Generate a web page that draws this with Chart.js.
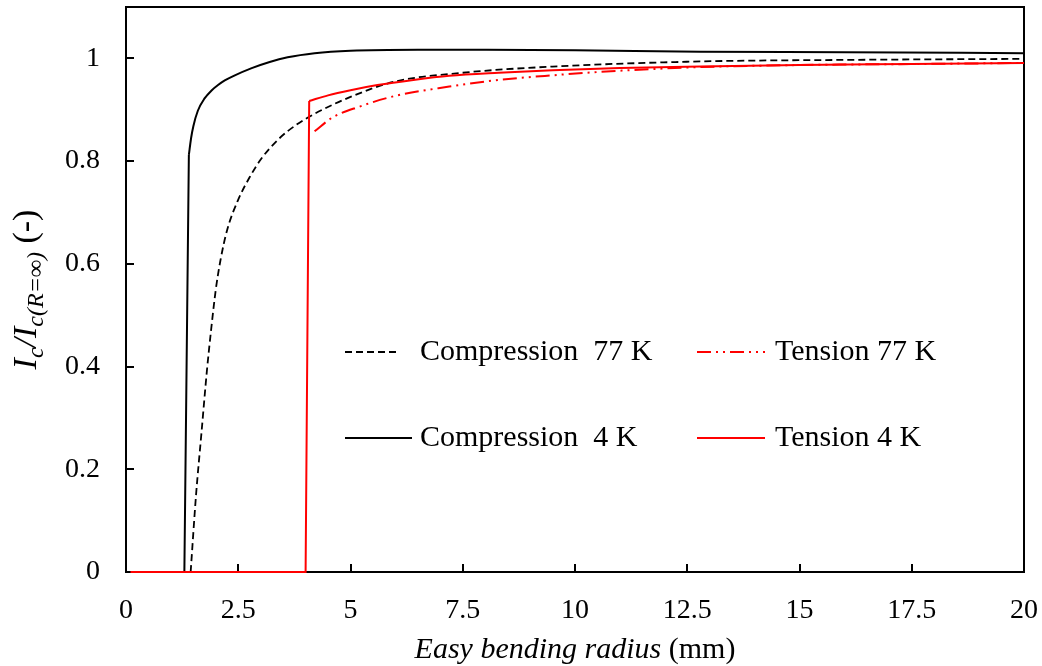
<!DOCTYPE html>
<html><head><meta charset="utf-8">
<script src="https://cdn.jsdelivr.net/npm/chart.js@4.4.1/dist/chart.umd.min.js"></script>
<style>html,body{margin:0;padding:0;background:#fff}#wrap{width:1042px;height:666px;position:relative}</style>
</head><body><div id="wrap"><canvas id="c"></canvas></div>
<script>
const xTicks=[0,2.5,5,7.5,10,12.5,15,17.5,20];
const yTicks=[0,0.2,0.4,0.6,0.8,1];

// Compression 4 K (solid black); first 3 points = zero run and vertical step
const comp4X=[0,1.3,1.4,1.45,1.5,1.6,1.75,1.9,2.05,2.2,2.4,2.8,3.2,3.6,4.2,5,6.5,8,10,12.8,16,20];
const comp4Y=[0,0,0.812,0.845,0.868,0.898,0.922,0.937,0.948,0.957,0.966,0.981,0.993,1.002,1.010,1.015,1.017,1.017,1.016,1.013,1.012,1.010];

// Compression 77 K (dashed black); first 2 points = zero run
const comp77X=[0,1.44,1.56,1.68,1.8,1.9,2.0,2.1,2.25,2.5,2.75,3.0,3.4,3.8,4.2,5,6,7.5,9.5,12.8,16,20];
const comp77Y=[0,0,0.15,0.27,0.39,0.475,0.55,0.605,0.665,0.725,0.768,0.803,0.843,0.871,0.892,0.925,0.955,0.972,0.984,0.994,0.997,0.999];

// Tension 4 K (solid red); first 3 points = zero run and vertical step
const tens4X=[0.1,4.0,4.08,4.5,5,5.6,6.4,7.2,8.3,9.5,11,12.8,15,17.5,20];
const tens4Y=[0,0,0.917,0.928,0.938,0.948,0.958,0.966,0.972,0.977,0.981,0.984,0.987,0.989,0.991];

// Tension 77 K (dash-dot-dot red)
const tens77X=[4.2,4.6,5.2,6,7.2,8.3,9.5,11,12.8,15,17.5,20];
const tens77Y=[0.858,0.885,0.906,0.927,0.945,0.958,0.967,0.976,0.983,0.987,0.989,0.991];

const seriesNames=['Compression  77 K','Tension 77 K','Compression  4 K','Tension 4 K'];

const FONT='"Liberation Serif","Times New Roman",serif';
const DASH77=[7,4];
const DASHDD=[14,5,2,5,2,5];

function pts(xs,ys){return xs.map((x,i)=>({x:x,y:ys[i]}));}

const frame={
  id:'frame',
  beforeDatasetsDraw(chart){
    const {ctx,chartArea:a,scales:{x,y}}=chart;
    ctx.save();
    ctx.strokeStyle='#000';ctx.lineWidth=2;
    ctx.strokeRect(a.left,a.top,a.right-a.left,a.bottom-a.top);
    ctx.beginPath();
    xTicks.forEach(v=>{const px=Math.round(x.getPixelForValue(v));ctx.moveTo(px,a.bottom);ctx.lineTo(px,a.bottom-8);});
    yTicks.forEach(v=>{const py=Math.round(y.getPixelForValue(v));ctx.moveTo(a.left,py);ctx.lineTo(a.left+8,py);});
    ctx.stroke();
    ctx.restore();
  },
  afterDraw(chart){
    const {ctx,chartArea:a}=chart;
    ctx.save();
    const items=[
      {name:seriesNames[0],color:'#000',dash:DASH77,w:1.8,x1:345,x2:400,tx:420,y:352},
      {name:seriesNames[1],color:'#ff0000',dash:DASHDD,w:2,x1:697,x2:765,tx:775,y:352},
      {name:seriesNames[2],color:'#000',dash:[],w:2,x1:345,x2:412,tx:420,y:438},
      {name:seriesNames[3],color:'#ff0000',dash:[],w:2,x1:697,x2:765,tx:775,y:438}
    ];
    items.forEach(it=>{
      ctx.strokeStyle=it.color;ctx.lineWidth=it.w;ctx.setLineDash(it.dash);
      ctx.beginPath();ctx.moveTo(it.x1,it.y);ctx.lineTo(it.x2,it.y);ctx.stroke();
      ctx.setLineDash([]);
      ctx.fillStyle='#000';ctx.font='30px '+FONT;ctx.textBaseline='middle';ctx.textAlign='left';
      ctx.fillText(it.name,it.tx,it.y);
    });
    const segs=[{t:'Easy bending radius',f:'italic 30px '+FONT},{t:' (mm)',f:'30px '+FONT}];
    let tw=0;segs.forEach(s=>{ctx.font=s.f;s.w=ctx.measureText(s.t).width;tw+=s.w;});
    let cx=(a.left+a.right)/2-tw/2;
    ctx.textBaseline='alphabetic';
    segs.forEach(s=>{ctx.font=s.f;ctx.fillText(s.t,cx,658);cx+=s.w;});
    const ys=[
      {t:'I',f:'italic 34px '+FONT,d:0},
      {t:'c',f:'italic 24px '+FONT,d:7},
      {t:'/I',f:'italic 34px '+FONT,d:0},
      {t:'c(R=\u221E)',f:'italic 24px '+FONT,d:7},
      {t:' (-)',f:'34px '+FONT,d:0}
    ];
    tw=0;ys.forEach(s=>{ctx.font=s.f;s.w=ctx.measureText(s.t).width;tw+=s.w;});
    ctx.translate(0,(a.top+a.bottom)/2);
    ctx.rotate(-Math.PI/2);
    cx=-tw/2;
    ys.forEach(s=>{ctx.font=s.f;ctx.fillText(s.t,cx,36+s.d);cx+=s.w;});
    ctx.restore();
  }
};

function series(label,xs,ys,color,dash,w,stepEnd){
  const base={label:label,borderColor:color,backgroundColor:color,borderWidth:w,borderDash:dash,pointRadius:0,showLine:true,fill:false,clip:6};
  const out=[];
  if(stepEnd>0){
    out.push(Object.assign({},base,{data:pts(xs.slice(0,stepEnd),ys.slice(0,stepEnd)),tension:0}));
  }
  const s=Math.max(stepEnd-1,0);
  out.push(Object.assign({},base,{data:pts(xs.slice(s),ys.slice(s)),cubicInterpolationMode:'monotone'}));
  return out;
}

const zeroPad=s=>{s.paddingTop=0;s.paddingBottom=0;s.paddingLeft=0;s.paddingRight=0;};

new Chart(document.getElementById('c'),{
  type:'scatter',
  data:{datasets:[].concat(
    series(seriesNames[3],tens4X,tens4Y,'#ff0000',[],2,3),
    series(seriesNames[1],tens77X,tens77Y,'#ff0000',DASHDD,2,0),
    series(seriesNames[2],comp4X,comp4Y,'#000000',[],2,3),
    series(seriesNames[0],comp77X,comp77Y,'#000000',DASH77,1.8,2)
  )},
  options:{
    responsive:true,maintainAspectRatio:false,animation:false,devicePixelRatio:1,
    layout:{padding:{top:7,right:18,left:0,bottom:0}},
    plugins:{legend:{display:false},tooltip:{enabled:false},title:{display:false}},
    scales:{
      x:{type:'linear',min:0,max:20,
        afterBuildTicks:s=>{s.ticks=xTicks.map(v=>({value:v}));},
        afterFit:s=>{s.height=94;zeroPad(s);},
        grid:{display:false,drawTicks:false},border:{display:false},
        ticks:{padding:22,color:'#000',font:{family:FONT,size:28},maxRotation:0,autoSkip:false,callback:v=>String(v)}},
      y:{type:'linear',min:0,max:1.1,
        afterBuildTicks:s=>{s.ticks=yTicks.map(v=>({value:v}));},
        afterFit:s=>{s.width=126;zeroPad(s);},
        grid:{display:false,drawTicks:false},border:{display:false},
        ticks:{padding:26,color:'#000',font:{family:FONT,size:28},autoSkip:false,callback:v=>String(Number(v.toFixed(1)))}}
    }
  },
  plugins:[frame]
});
</script></body></html>
